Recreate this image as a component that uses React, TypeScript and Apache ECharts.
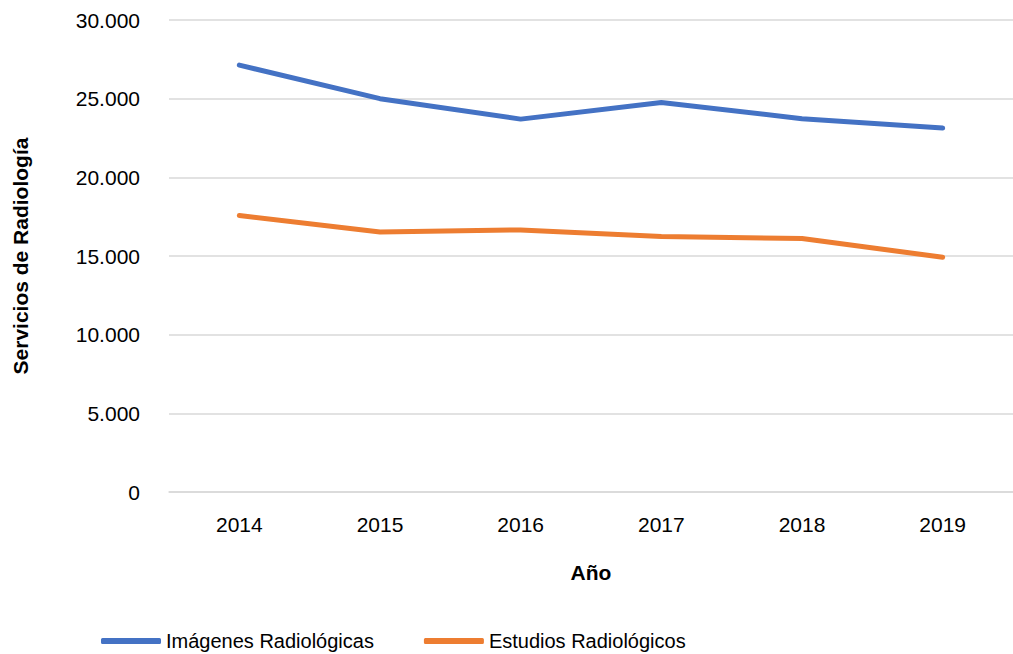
import React, { useEffect, useRef } from "react";
import * as echarts from "echarts";

const years = ["2014", "2015", "2016", "2017", "2018", "2019"];
const imagenes = [27130, 25000, 23700, 24750, 23730, 23130];
const estudios = [17570, 16520, 16660, 16240, 16110, 14920];
const seriesNames = ["Imágenes Radiológicas", "Estudios Radiológicos"];
const yTitle = "Servicios de Radiología";
const xTitle = "Año";

const FONT = "'Liberation Sans', Arial, sans-serif";

export default function App() {
  const ref = useRef<HTMLDivElement>(null);
  useEffect(() => {
    if (!ref.current) return;
    const chart = echarts.init(ref.current, null, { renderer: "svg" });
    chart.setOption({
      animation: false,
      textStyle: { fontFamily: FONT },
      grid: { left: 169, right: -9, top: 20, bottom: 162 },
      legend: {
        top: 626,
        left: 96,
        itemWidth: 60,
        itemHeight: 6,
        itemGap: 50,
        icon: "roundRect",
        textStyle: { fontSize: 20, color: "#000", fontFamily: FONT },
        data: seriesNames,
      },
      xAxis: {
        type: "category",
        data: years,
        boundaryGap: true,
        axisLine: { lineStyle: { color: "#D9D9D9", width: 1.5 } },
        axisTick: { show: false },
        axisLabel: { fontSize: 21, color: "#000", margin: 22, fontFamily: FONT },
        name: xTitle,
        nameLocation: "middle",
        nameGap: 70,
        nameTextStyle: { fontSize: 21, fontWeight: "bold", color: "#000", fontFamily: FONT },
      },
      yAxis: {
        type: "value",
        min: 0,
        max: 30000,
        interval: 5000,
        axisLine: { show: false },
        axisTick: { show: false },
        splitLine: { lineStyle: { color: "#D9D9D9", width: 1.5 } },
        axisLabel: {
          fontSize: 21,
          color: "#000",
          margin: 29,
          fontFamily: FONT,
          formatter: (v: number) => (v === 0 ? "0" : v.toLocaleString("de-DE")),
        },
        name: yTitle,
        nameLocation: "middle",
        nameGap: 138,
        nameRotate: 90,
        nameTextStyle: { fontSize: 21, fontWeight: "bold", color: "#000", fontFamily: FONT },
      },
      series: [
        {
          name: seriesNames[0],
          type: "line",
          data: imagenes,
          showSymbol: false,
          symbol: "none",
          lineStyle: { color: "#4472C4", width: 5, cap: "round", join: "round" },
          itemStyle: { color: "#4472C4" },
        },
        {
          name: seriesNames[1],
          type: "line",
          data: estudios,
          showSymbol: false,
          symbol: "none",
          lineStyle: { color: "#ED7D31", width: 5, cap: "round", join: "round" },
          itemStyle: { color: "#ED7D31" },
        },
      ],
    });
    return () => chart.dispose();
  }, []);
  return <div ref={ref} style={{ width: 1013, height: 654, position: "absolute", left: 0, top: 0 }} />;
}
